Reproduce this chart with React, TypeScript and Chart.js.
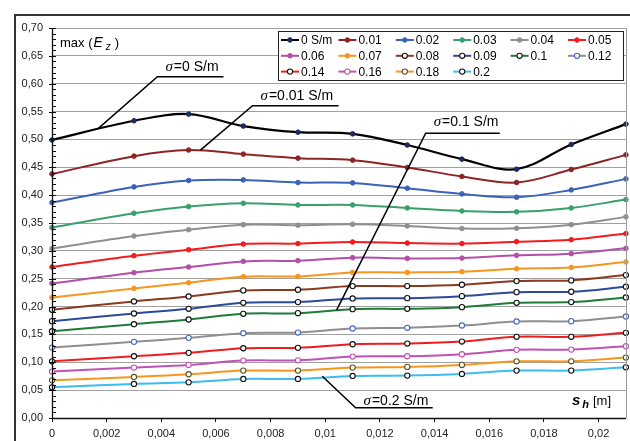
import React, { useEffect, useRef } from 'react';
import { Chart, registerables } from 'chart.js';
Chart.register(...registerables);

const FONT = '"Liberation Sans", Arial, sans-serif';

// x positions (s_h in m)
const xValues = [0, 0.003, 0.005, 0.007, 0.009, 0.011, 0.013, 0.015, 0.017, 0.019, 0.021];

const seriesNames = ['0 S/m', '0.01', '0.02', '0.03', '0.04', '0.05', '0.06', '0.07', '0.08', '0.09', '0.1', '0.12', '0.14', '0.16', '0.18', '0.2'];

const s000 = [0.499, 0.5335, 0.5455, 0.524, 0.513, 0.51, 0.49, 0.4646, 0.4466, 0.491, 0.5275];
const s001 = [0.438, 0.47, 0.481, 0.4736, 0.4664, 0.4628, 0.4497, 0.4335, 0.4227, 0.446, 0.4723];
const s002 = [0.3867, 0.4148, 0.4263, 0.4274, 0.4227, 0.422, 0.4124, 0.4022, 0.3962, 0.4094, 0.4292];
const s003 = [0.3417, 0.3675, 0.3795, 0.3854, 0.3824, 0.3824, 0.377, 0.3716, 0.37, 0.377, 0.392];
const s004 = [0.304, 0.3266, 0.338, 0.347, 0.346, 0.3477, 0.3446, 0.34, 0.3405, 0.347, 0.361];
const s005 = [0.271, 0.2913, 0.302, 0.3122, 0.313, 0.3159, 0.314, 0.313, 0.3165, 0.32, 0.331];
const s006 = [0.2416, 0.2608, 0.271, 0.2811, 0.2824, 0.2878, 0.2865, 0.287, 0.2919, 0.295, 0.3045];
const s007 = [0.2164, 0.2326, 0.2428, 0.2536, 0.2541, 0.2613, 0.2613, 0.2626, 0.268, 0.2703, 0.28];
const s008 = [0.1942, 0.2092, 0.2182, 0.229, 0.2302, 0.2367, 0.2367, 0.2392, 0.2457, 0.247, 0.2565];
const s009 = [0.1738, 0.1876, 0.196, 0.2068, 0.208, 0.2146, 0.2151, 0.2187, 0.2259, 0.2266, 0.2356];
const s010 = [0.1558, 0.1684, 0.1768, 0.187, 0.1882, 0.1954, 0.196, 0.199, 0.2068, 0.208, 0.2164];
const s012 = [0.1264, 0.1367, 0.1439, 0.1522, 0.1534, 0.1606, 0.1619, 0.166, 0.1732, 0.1738, 0.1822];
const s014 = [0.1018, 0.1108, 0.1169, 0.1252, 0.1259, 0.1324, 0.1336, 0.1372, 0.1457, 0.1457, 0.1529];
const s016 = [0.0833, 0.0905, 0.0953, 0.1031, 0.1036, 0.1103, 0.1108, 0.1144, 0.1223, 0.1228, 0.1288];
const s018 = [0.0676, 0.0737, 0.0785, 0.0851, 0.0851, 0.0905, 0.0917, 0.0953, 0.1018, 0.1018, 0.1085];
const s020 = [0.0551, 0.0611, 0.064, 0.0701, 0.0701, 0.0755, 0.0761, 0.0791, 0.0851, 0.0851, 0.091];

const seriesValues = [s000, s001, s002, s003, s004, s005, s006, s007, s008, s009, s010, s012, s014, s016, s018, s020];

// styles: line colour, marker fill, marker border
const seriesStyles = [
  { line: '#000000', fill: '#1c2a60', edge: '#1c2a60' },
  { line: '#8e2424', fill: '#8e2424', edge: '#8e2424' },
  { line: '#3b62b6', fill: '#3b62b6', edge: '#3b62b6' },
  { line: '#37a06c', fill: '#37a06c', edge: '#37a06c' },
  { line: '#8f8f8f', fill: '#8f8f8f', edge: '#8f8f8f' },
  { line: '#f21c1c', fill: '#f21c1c', edge: '#f21c1c' },
  { line: '#b24fa8', fill: '#b24fa8', edge: '#b24fa8' },
  { line: '#f7961e', fill: '#f7961e', edge: '#f7961e' },
  { line: '#8b3a20', fill: '#ffffff', edge: '#111111' },
  { line: '#2c4a9c', fill: '#ffffff', edge: '#111111' },
  { line: '#1d7c3a', fill: '#ffffff', edge: '#111111' },
  { line: '#8f8f8f', fill: '#ffffff', edge: '#4468c8' },
  { line: '#f21c1c', fill: '#ffffff', edge: '#111111' },
  { line: '#c052b6', fill: '#ffffff', edge: '#c052b6' },
  { line: '#f7961e', fill: '#ffffff', edge: '#5a5426' },
  { line: '#3cbdee', fill: '#ffffff', edge: '#111111' },
];

const yTicksMajor = { min: 0, max: 0.7, step: 0.05, minorStep: 0.01 };
const xTicks = { min: 0, max: 0.021, step: 0.002 };

// callout annotations in data coordinates
const callouts = [
  { label: '=0 S/m', textX: 0.00415, textY: 0.6237, x1: 0.003857, x2: 0.006275, lineY: 0.6126, tipX: 0.001696, tipY: 0.5198 },
  { label: '=0.01 S/m', textX: 0.00763, textY: 0.5716, x1: 0.007337, x2: 0.010487, lineY: 0.5604, tipX: 0.005432, tipY: 0.4808 },
  { label: '=0.1 S/m', textX: 0.013967, textY: 0.5239, x1: 0.013674, x2: 0.016385, lineY: 0.5113, tipX: 0.010414, tipY: 0.1935 },
  { label: '=0.2 S/m', textX: 0.0114, textY: 0.0239, x1: 0.01111, x2: 0.01393, lineY: 0.01853, tipX: 0.00989, tipY: 0.0748 },
];

const fmt = (v: number) => String(parseFloat(v.toFixed(6))).replace('.', ',');

const decorPlugin = {
  id: 'decor',
  beforeDraw(chart: any) {
    const ctx = chart.ctx;
    ctx.save();
    ctx.fillStyle = '#ffffff';
    ctx.fillRect(0, 0, chart.width, chart.height);
    ctx.strokeStyle = '#333333';
    ctx.lineWidth = 2;
    ctx.strokeRect(15, 15, chart.width + 20, chart.height + 20);
    ctx.restore();
  },
  afterDraw(chart: any) {
    const ctx = chart.ctx;
    const ca = chart.chartArea;
    const xs = chart.scales.x;
    const ys = chart.scales.y;
    ctx.save();
    // right border of plot
    ctx.strokeStyle = '#9a9a9a';
    ctx.lineWidth = 1;
    ctx.beginPath();
    ctx.moveTo(Math.round(ca.right) + 0.5, ca.top);
    ctx.lineTo(Math.round(ca.right) + 0.5, ca.bottom);
    ctx.stroke();
    // axes
    ctx.strokeStyle = '#111111';
    ctx.lineWidth = 1.3;
    ctx.beginPath();
    ctx.moveTo(ca.left + 0.5, ca.top);
    ctx.lineTo(ca.left + 0.5, ca.bottom + 0.5);
    ctx.lineTo(ca.right, ca.bottom + 0.5);
    ctx.stroke();
    // y ticks (major crossing, minor inside)
    ctx.lineWidth = 1;
    const n = Math.round((yTicksMajor.max - yTicksMajor.min) / yTicksMajor.minorStep);
    const per = Math.round(yTicksMajor.step / yTicksMajor.minorStep);
    for (let i = 0; i <= n; i++) {
      const py = Math.round(ys.getPixelForValue(yTicksMajor.min + i * yTicksMajor.minorStep)) + 0.5;
      const major = i % per === 0;
      ctx.beginPath();
      ctx.moveTo(ca.left + (major ? -3 : 0), py);
      ctx.lineTo(ca.left + 4, py);
      ctx.stroke();
    }
    // callouts
    callouts.forEach((c) => {
      const px1 = xs.getPixelForValue(c.x1);
      const px2 = xs.getPixelForValue(c.x2);
      const py = ys.getPixelForValue(c.lineY);
      const tx = xs.getPixelForValue(c.tipX);
      const ty = ys.getPixelForValue(c.tipY);
      ctx.strokeStyle = '#000';
      ctx.lineWidth = 1.5;
      ctx.beginPath();
      ctx.moveTo(tx, ty);
      ctx.lineTo(px1, py);
      ctx.lineTo(px2, py);
      ctx.stroke();
      const lx = xs.getPixelForValue(c.textX);
      const ly = ys.getPixelForValue(c.textY);
      ctx.fillStyle = '#000';
      ctx.textBaseline = 'alphabetic';
      ctx.textAlign = 'left';
      ctx.font = 'italic 15px "Liberation Serif", serif';
      ctx.fillText('σ', lx, ly);
      const w = ctx.measureText('σ').width;
      ctx.font = '14px ' + FONT;
      ctx.fillText(c.label, lx + w + 1, ly);
    });
    // max(Ez) label
    ctx.fillStyle = '#000';
    ctx.textAlign = 'left';
    ctx.textBaseline = 'alphabetic';
    let x = ca.left + 8;
    const by = ca.top + 19;
    ctx.font = '13px ' + FONT;
    ctx.fillText('max (', x, by);
    x += ctx.measureText('max (').width + 1;
    ctx.font = 'italic 14px ' + FONT;
    ctx.fillText('E', x, by);
    x += ctx.measureText('E').width + 3;
    ctx.font = 'italic 10px ' + FONT;
    ctx.fillText('z', x, by + 3);
    x += ctx.measureText('z').width + 4;
    ctx.font = '13px ' + FONT;
    ctx.fillText(')', x, by);
    // s_h [m] label
    x = ca.right - 54;
    const sy = ca.bottom - 13;
    ctx.font = 'bold italic 15px ' + FONT;
    ctx.fillText('s', x, sy);
    x += ctx.measureText('s').width + 2;
    ctx.font = 'bold italic 11px ' + FONT;
    ctx.fillText('h', x, sy + 3);
    x += ctx.measureText('h').width + 4;
    ctx.font = '13px ' + FONT;
    ctx.fillText('[m]', x, sy);
    // legend
    const lx0 = ca.left + 226;
    const ly0 = ca.top + 3;
    const lw = 345;
    const lh = 49;
    ctx.fillStyle = '#ffffff';
    ctx.fillRect(lx0, ly0, lw, lh);
    ctx.strokeStyle = '#222';
    ctx.lineWidth = 1;
    ctx.strokeRect(lx0 + 0.5, ly0 + 0.5, lw, lh);
    chart.data.datasets.forEach((ds: any, i: number) => {
      const col = i % 6;
      const row = Math.floor(i / 6);
      const textX = lx0 + 23 + col * 57.4;
      const cy = ly0 + 9 + row * 15.8;
      ctx.strokeStyle = ds.borderColor;
      ctx.lineWidth = 2;
      ctx.beginPath();
      ctx.moveTo(textX - 20, cy);
      ctx.lineTo(textX - 2, cy);
      ctx.stroke();
      ctx.beginPath();
      ctx.arc(textX - 11, cy, ds.pointRadius, 0, Math.PI * 2);
      ctx.fillStyle = ds.pointBackgroundColor;
      ctx.fill();
      ctx.strokeStyle = ds.pointBorderColor;
      ctx.lineWidth = ds.pointBorderWidth;
      ctx.stroke();
      ctx.fillStyle = '#000';
      ctx.font = '12px ' + FONT;
      ctx.textBaseline = 'middle';
      ctx.fillText(ds.label, textX, cy + 1);
    });
    ctx.restore();
  },
};

export default function App() {
  const ref = useRef<HTMLCanvasElement | null>(null);
  useEffect(() => {
    if (!ref.current) return;
    const datasets = seriesNames.map((name, i) => {
      const st = seriesStyles[i];
      const hollow = st.fill === '#ffffff';
      return {
        label: name,
        data: xValues.map((x, j) => ({ x, y: seriesValues[i][j] })),
        borderColor: st.line,
        borderWidth: i === 0 ? 2.2 : 2,
        pointBackgroundColor: st.fill,
        pointBorderColor: st.edge,
        pointBorderWidth: hollow ? 1.1 : 1,
        pointRadius: hollow ? 2.6 : 2.3,
        pointHoverRadius: 3,
        tension: 0.35,
        fill: false,
        clip: 6,
      };
    });
    const chart = new Chart(ref.current, {
      type: 'line',
      data: { datasets },
      plugins: [decorPlugin],
      options: {
        animation: false,
        responsive: false,
        layout: { padding: { left: 0, top: 28, right: 4, bottom: 0 } },
        plugins: { legend: { display: false }, tooltip: { enabled: false } },
        scales: {
          x: {
            type: 'linear',
            min: xTicks.min,
            max: xTicks.max,
            afterFit: (s: any) => { s.height = 23; },
            ticks: {
              stepSize: xTicks.step,
              includeBounds: false,
              autoSkip: false,
              maxRotation: 0,
              padding: 5,
              color: '#222',
              font: { family: FONT, size: 11 },
              callback: (v: any) => fmt(Number(v)),
            },
            grid: { display: true, drawOnChartArea: false, drawTicks: true, tickLength: 4, color: '#111' },
            border: { display: true, color: '#111', width: 1 },
          },
          y: {
            type: 'linear',
            min: yTicksMajor.min,
            max: yTicksMajor.max,
            afterFit: (s: any) => { s.width = 52; },
            ticks: {
              stepSize: yTicksMajor.step,
              padding: 9,
              color: '#222',
              font: { family: FONT, size: 11 },
              callback: (v: any) => Number(v).toFixed(2).replace('.', ','),
            },
            grid: { color: '#a0a0a0', drawTicks: false, lineWidth: 1 },
            border: { display: true, color: '#111', width: 1 },
          },
        },
      },
    } as any);
    return () => chart.destroy();
  }, []);
  return (
    <div style={{ position: 'fixed', left: 0, top: 0, width: 630, height: 441, background: '#fff' }}>
      <canvas ref={ref} width={630} height={441} style={{ display: 'block' }} />
    </div>
  );
}
